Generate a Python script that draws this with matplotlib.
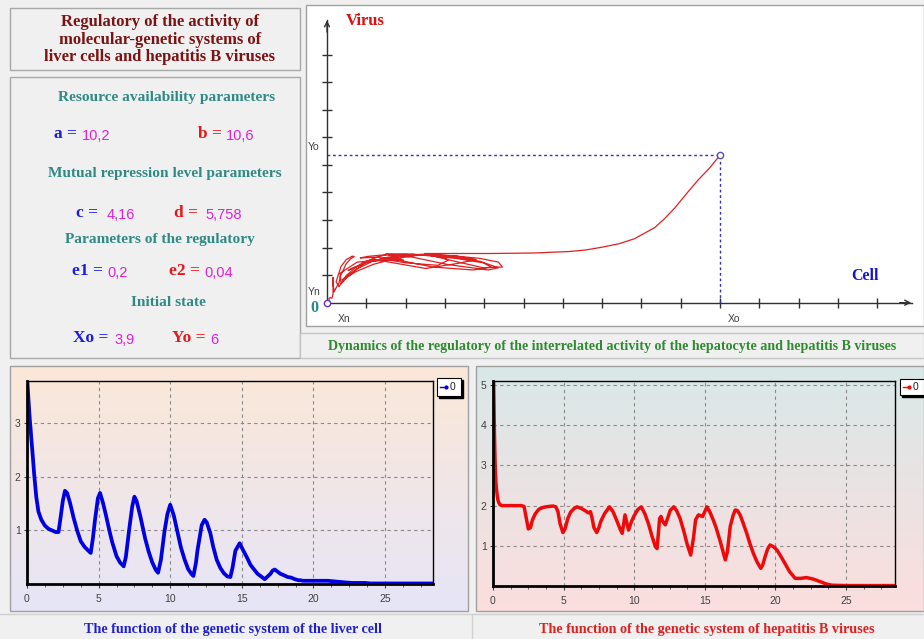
import numpy as np
import matplotlib
matplotlib.use("Agg")
import matplotlib.pyplot as plt
from matplotlib.patches import Rectangle
from matplotlib.lines import Line2D
from matplotlib.ticker import MultipleLocator

# ---------------- data ----------------
params_a, params_b = "10,2", "10,6"
params_c, params_d = "4,16", "5,758"
params_e1, params_e2 = "0,2", "0,04"
Xo, Yo = 3.9, 6.0

t = [0.00, 0.025, 0.05, 0.075, 0.10, 0.125, 0.15, 0.20, 0.25, 0.30,
     0.35, 0.40, 0.50, 0.65, 0.80,
     1.00, 1.25, 1.50, 1.75, 2.00, 2.20, 2.35, 2.50, 2.65, 2.80,
     3.00, 3.25, 3.50, 3.75, 4.00, 4.25, 4.45, 4.60, 4.75, 4.95,
     5.10, 5.30, 5.50, 5.75, 5.95, 6.25, 6.50, 6.75, 6.90, 7.00,
     7.15, 7.35, 7.50, 7.65, 7.90, 8.25, 8.50, 8.75, 9.00, 9.15,
     9.35, 9.60, 9.80, 10.00, 10.25, 10.50, 10.75, 11.00, 11.25, 11.50,
     11.62, 11.80, 11.90, 12.00, 12.20, 12.40, 12.55, 12.80, 13.00, 13.25,
     13.50, 13.75, 14.00, 14.20, 14.35, 14.55, 14.85, 15.15, 15.35, 15.60,
     15.80, 16.10, 16.45, 16.60, 16.80, 17.00, 17.15, 17.30, 17.50, 17.70,
     17.97, 18.20, 18.44, 18.70, 18.96, 19.10, 19.27, 19.45, 19.62, 19.85,
     20.10, 20.40, 20.68, 21.00, 21.40, 21.80, 22.20, 22.70, 23.16, 23.60,
     24.00, 25.00, 26.50, 28.50]

liver = [3.90, 3.79, 3.68, 3.56, 3.45, 3.35, 3.25, 3.05, 2.90, 2.72,
         2.56, 2.40, 2.05, 1.62, 1.35,
         1.20, 1.09, 1.03, 1.00, 0.97, 0.97, 1.25, 1.55, 1.74, 1.70,
         1.52, 1.24, 1.00, 0.80, 0.70, 0.63, 0.58, 0.85, 1.20, 1.60,
         1.70, 1.52, 1.30, 1.00, 0.78, 0.52, 0.40, 0.33, 0.50, 0.72,
         1.05, 1.45, 1.63, 1.55, 1.28, 0.85, 0.60, 0.40, 0.26, 0.21,
         0.45, 0.98, 1.30, 1.48, 1.28, 0.98, 0.68, 0.46, 0.28, 0.18,
         0.15, 0.40, 0.62, 0.78, 1.10, 1.20, 1.15, 0.95, 0.70, 0.45,
         0.30, 0.20, 0.14, 0.13, 0.30, 0.62, 0.76, 0.60, 0.50, 0.36,
         0.29, 0.19, 0.12, 0.09, 0.14, 0.19, 0.25, 0.27, 0.23, 0.19,
         0.16, 0.13, 0.12, 0.09, 0.07, 0.07, 0.06, 0.06, 0.06, 0.06,
         0.06, 0.06, 0.06, 0.06, 0.05, 0.04, 0.03, 0.02, 0.02, 0.02,
         0.01, 0.01, 0.01, 0.01]

virus = [6.00, 5.45, 4.98, 4.40, 3.85, 3.42, 3.05, 2.60, 2.40, 2.25,
         2.14, 2.08, 2.02, 2.00, 2.00,
         2.00, 2.00, 2.00, 2.00, 2.00, 1.98, 1.70, 1.42, 1.45, 1.65,
         1.80, 1.91, 1.95, 1.97, 1.98, 1.99, 1.97, 1.85, 1.55, 1.33,
         1.42, 1.68, 1.84, 1.93, 1.97, 1.93, 1.88, 1.82, 1.85, 1.72,
         1.45, 1.33, 1.45, 1.62, 1.80, 1.97, 1.85, 1.64, 1.42, 1.31,
         1.77, 1.39, 1.60, 1.75, 1.90, 1.97, 1.80, 1.56, 1.25, 0.98,
         0.93, 1.68, 1.73, 1.62, 1.52, 1.72, 1.88, 1.97, 1.88, 1.68,
         1.38, 1.04, 0.77, 1.20, 1.65, 1.77, 1.73, 1.97, 1.85, 1.64,
         1.45, 1.10, 0.65, 0.85, 1.48, 1.75, 1.89, 1.88, 1.77, 1.58,
         1.31, 1.05, 0.81, 0.60, 0.44, 0.52, 0.73, 0.92, 1.02, 0.98,
         0.90, 0.73, 0.56, 0.36, 0.19, 0.19, 0.21, 0.17, 0.11, 0.05,
         0.02, 0.01, 0.01, 0.01]

x_ticks_time = [0, 5, 10, 15, 20, 25]
liver_yticks = [1, 2, 3]
virus_yticks = [1, 2, 3, 4, 5]
legend_label = "0"

# ---------------- figure helpers ----------------
W, H = 924, 639
fig = plt.figure(figsize=(W / 100, H / 100), dpi=100, facecolor="#f0f0f0")


def rect_px(x0, y0, x1, y1):
    return [x0 / W, 1 - y1 / H, (x1 - x0) / W, (y1 - y0) / H]


def ftext(px, py, s, **kw):
    return fig.text(px / W, 1 - py / H, s, **kw)


def frect(x0, y0, x1, y1, fc, ec, lw=1.0, z=0):
    r = Rectangle((x0 / W, 1 - y1 / H), (x1 - x0) / W, (y1 - y0) / H,
                  transform=fig.transFigure, facecolor=fc, edgecolor=ec,
                  linewidth=lw, zorder=z)
    fig.add_artist(r)
    return r


def fline(xs, ys, **kw):
    fig.add_artist(Line2D([x / W for x in xs], [1 - y / H for y in ys],
                          transform=fig.transFigure, **kw))


SERIF = ["Liberation Serif", "DejaVu Serif"]
SANS = ["Liberation Sans", "DejaVu Sans"]
TEAL = "#2f8a86"
BLUE = "#1c1ce0"
RED = "#e81818"
MAG = "#e020d8"
MAROON = "#7b1313"

# ---------------- left panels ----------------
frect(10, 8, 300, 70, "#f0f0f0", "#a8a8a8")
for i, line in enumerate(["Regulatory of the activity of",
                          "molecular-genetic systems of",
                          "liver cells and hepatitis B viruses"]):
    ftext(160, 22 + i * 17.7, line, ha="center", va="center", color=MAROON,
          fontsize=12.0, fontweight="bold", family=SERIF)

frect(10, 77, 300, 358, "#f0f0f0", "#a8a8a8")
hdr = dict(ha="center", va="center", color=TEAL, fontsize=11.1,
           fontweight="bold", family=SERIF)
ftext(167, 97, "Resource availability parameters", **hdr)
ftext(165, 174, "Mutual repression level parameters", **hdr)
ftext(160, 240, "Parameters of the regulatory", **hdr)
ftext(168, 303, "Initial state", **hdr)

lab = dict(ha="left", va="center", fontsize=12.5, fontweight="bold", family=SERIF)
val = dict(ha="left", va="center", fontsize=10.5, color=MAG, family=SANS)
ftext(54, 134, "a =", color=BLUE, **lab)
ftext(82, 136, params_a, **val)
ftext(198, 134, "b =", color=RED, **lab)
ftext(226, 136, params_b, **val)
ftext(76, 213, "c =", color=BLUE, **lab)
ftext(107, 215, params_c, **val)
ftext(174, 213, "d =", color=RED, **lab)
ftext(205, 215, params_d, **val)
ftext(72, 271, "e1 =", color=BLUE, **lab)
ftext(107, 273, params_e1, **val)
ftext(169, 271, "e2 =", color=RED, **lab)
ftext(204, 273, params_e2, **val)
ftext(73, 338, "Xo =", color=BLUE, **lab)
ftext(114, 340, str(Xo).replace(".", ","), **val)
ftext(172, 338, "Yo =", color=RED, **lab)
ftext(210, 340, "%g" % Yo, **val)

# ---------------- phase portrait ----------------
frect(306, 5, 924, 326, "white", "#a0a0a0")
frect(300, 333, 924, 358, "#f0f0f0", "#c4c4c4")
ftext(612, 347, "Dynamics of the regulatory of the interrelated activity of the hepatocyte and hepatitis B viruses",
      ha="center", va="center", color="#2e8b2e", fontsize=10.1,
      fontweight="bold", family=SERIF)

axP = fig.add_axes(rect_px(306, 5, 924, 326))
axP.patch.set_alpha(0)
px_x, px_y = 100.8, 24.6          # pixels per unit
axP.set_xlim((306 - 327) / px_x, (924 - 327) / px_x)
axP.set_ylim((302.7 - 326) / px_y, (302.7 - 5) / px_y)
x_end, y_end = (912 - 327) / px_x, (302.7 - 20) / px_y
for s in ["top", "right"]:
    axP.spines[s].set_visible(False)
axP.spines["left"].set_position(("data", 0))
axP.spines["bottom"].set_position(("data", 0))
axP.spines["left"].set_bounds(0, y_end)
axP.spines["bottom"].set_bounds(0, x_end)
for s in ["left", "bottom"]:
    axP.spines[s].set_color("#303030")
    axP.spines[s].set_linewidth(1.0)
xt_step = Xo / 10
yt_step = 1.12
axP.set_xticks([xt_step * k for k in range(1, 15)])
axP.set_yticks([yt_step * k for k in range(1, 10)])
axP.tick_params(direction="inout", length=7, width=1, color="#303030",
                labelbottom=False, labelleft=False)
axP.xaxis.get_major_ticks()[9].tick1line.set_color("#e02020")
axP.annotate("", xy=(x_end + 0.02, 0), xytext=(x_end - 0.15, 0),
             arrowprops=dict(arrowstyle="->", color="#303030", lw=1,
                             mutation_scale=9))
axP.annotate("", xy=(0, y_end + 0.1), xytext=(0, y_end - 0.6),
             arrowprops=dict(arrowstyle="->", color="#303030", lw=1,
                             mutation_scale=9))
axP.plot([0, Xo], [Yo, Yo], ls=(0, (2, 2)), color="#3030c0", lw=1)
axP.plot([Xo, Xo], [0, Yo], ls=(0, (2, 2)), color="#3030c0", lw=1)
axP.plot(liver, virus, color="#e02020", lw=0.9, zorder=3)
axP.plot([0], [0], "o", mfc="white", mec="#7030b0", ms=4.5, mew=1, zorder=4)
axP.plot([Xo], [Yo], "o", mfc="white", mec="#5050c0", ms=4.5, mew=1, zorder=4)

ftext(346, 21, "Virus", ha="left", va="center", color="#e01010",
      fontsize=12, fontweight="bold", family=SERIF)
ftext(851, 276, "Cell", ha="left", va="center", color="#1515d0",
      fontsize=11.5, fontweight="bold", family=SERIF)
small = dict(ha="left", va="center", color="#404040", fontsize=7.5, family=SANS)
ftext(308, 147, "Yo", **small)
ftext(308, 292, "Yn", **small)
ftext(338, 319, "Xn", **small)
ftext(728, 319, "Xo", **small)
ftext(314, 308, "0", ha="center", va="center", color="#2a8a90", fontsize=11.5,
      fontweight="bold", family=SERIF)

# ---------------- bottom panels ----------------
def gradient_panel(x0, y0, x1, y1, c_top, c_bot):
    ax = fig.add_axes(rect_px(x0, y0, x1, y1))
    ct = np.array(matplotlib.colors.to_rgb(c_top))
    cb = np.array(matplotlib.colors.to_rgb(c_bot))
    f = np.linspace(0, 1, 256)[:, None, None]
    img = ct[None, None, :] * (1 - f) + cb[None, None, :] * f
    ax.imshow(img, aspect="auto", extent=[0, 1, 0, 1])
    ax.set_axis_off()
    ax.set_zorder(0)
    return ax


gradient_panel(10, 366, 468, 611, "#fbe8d8", "#e6e5f7")
gradient_panel(476, 366, 924, 611, "#d9e8e8", "#fcdede")
frect(10, 366, 468, 611, "none", "#a0a0a0", z=5)
frect(476, 366, 924, 611, "none", "#a0a0a0", z=5)
fline([0, 924], [614, 614], color="#d0d0d0", lw=1)
fline([472, 472], [614, 639], color="#d0d0d0", lw=1)

ftext(233, 630, "The function of the genetic system of the liver cell",
      ha="center", va="center", color="#2020d0", fontsize=10.2,
      fontweight="bold", family=SERIF)
ftext(707, 630, "The function of the genetic system of hepatitis B viruses",
      ha="center", va="center", color="#e02020", fontsize=10.2,
      fontweight="bold", family=SERIF)


def style_time_axis(ax, yticks):
    ax.patch.set_alpha(0)
    ax.set_zorder(2)
    ax.set_xticks(x_ticks_time)
    ax.set_yticks(yticks)
    ax.xaxis.set_minor_locator(MultipleLocator(1.25))
    ax.grid(True, which="major", ls=(0, (3, 3)), color="#8a8a8a", lw=0.8)
    ax.tick_params(which="both", direction="out", color="#404040",
                   labelsize=7.5, labelcolor="#404040")
    ax.tick_params(which="major", length=3, pad=4)
    ax.tick_params(which="minor", length=2.5)
    ax.tick_params(axis="y", length=2.5, pad=2)
    for s in ["left", "bottom"]:
        ax.spines[s].set_linewidth(2)
        ax.spines[s].set_color("black")
    for s in ["top", "right"]:
        ax.spines[s].set_linewidth(1)
        ax.spines[s].set_color("black")
    for lbl in ax.get_xticklabels() + ax.get_yticklabels():
        lbl.set_family(SANS)


axL = fig.add_axes(rect_px(27, 381, 433, 584))
axL.plot(t, liver, color="#0000e0", lw=2.7, solid_joinstyle="round",
         solid_capstyle="round")
axL.set_xlim(0, 28.35)
axL.set_ylim(0, 3.79)
style_time_axis(axL, liver_yticks)

axR = fig.add_axes(rect_px(493, 381, 895, 586))
axR.plot(t, virus, color="#ee0a0a", lw=2.5, solid_joinstyle="round",
         solid_capstyle="round")
axR.set_xlim(0, 28.47)
axR.set_ylim(0, 5.1)
style_time_axis(axR, virus_yticks)


def legend_box(x0, y0, x1, y1, color):
    frect(x0 + 2, y0 + 2, x1 + 2, y1 + 2, "black", "black", z=6)
    frect(x0, y0, x1, y1, "white", "black", lw=0.8, z=7)
    ym = (y0 + y1) / 2
    fline([x0 + 3, x0 + 9], [ym, ym], color=color, lw=1, marker=".",
          markevery=[1], ms=4, zorder=8)
    ftext(x0 + 13, ym, legend_label, ha="left", va="center", fontsize=7.5,
          color="#202020", family=SANS, zorder=8)


legend_box(437, 378, 461, 396, "#0000e0")
legend_box(900, 379, 924, 395, "#ee0a0a")

fig.savefig("out.png", dpi=100, facecolor=fig.get_facecolor())
